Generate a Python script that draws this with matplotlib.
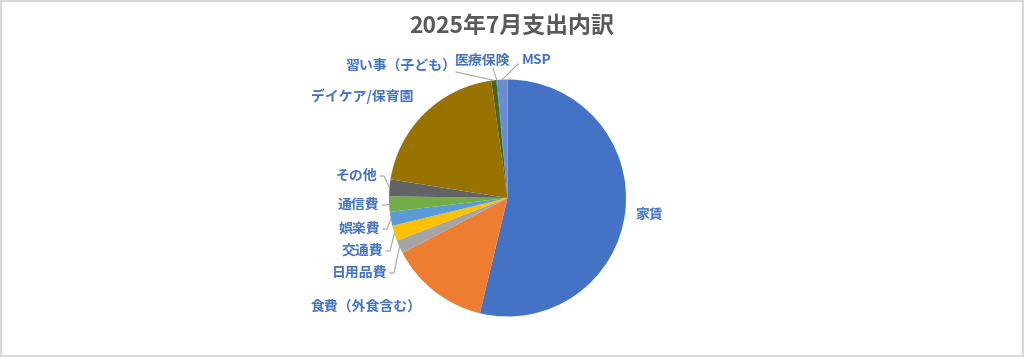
import matplotlib
matplotlib.use("Agg")
import matplotlib.pyplot as plt
from matplotlib.patches import Rectangle
import numpy as np

plt.rcParams['font.family'] = ['Noto Sans CJK JP', 'DejaVu Sans']

# ---- data ----
categories = ["家賃", "食費（外食含む）", "日用品費", "交通費", "娯楽費", "通信費",
              "その他", "デイケア/保育園", "習い事（子ども）", "医療保険", "MSP"]
shares = [53.8, 13.6, 1.8, 2.1, 1.9, 2.1, 2.3, 20.3, 0.7, 0.1, 1.4]
colors = ["#4472C4", "#ED7D31", "#A5A5A5", "#FFC000", "#5B9BD5", "#70AD47",
          "#636363", "#997300", "#43682B", "#255E91", "#698ED0"]
title = "2025年7月支出内訳"

W, H = 1024, 357
CX, CY, R = 507.5, 198.0, 118.5   # pie centre / radius in pixels (top-left origin)

fig = plt.figure(figsize=(W / 100, H / 100), dpi=100)
ax = fig.add_axes([0, 0, 1, 1])
ax.set_xlim(-CX / R, (W - CX) / R)
ax.set_ylim(-(H - CY) / R, CY / R)
ax.set_aspect('auto')
ax.axis('off')

wedges, _ = ax.pie(shares, colors=colors, startangle=90, counterclock=False,
                   radius=1.0, center=(0, 0), wedgeprops=dict(linewidth=0))
ax.set_xlim(-CX / R, (W - CX) / R)
ax.set_ylim(-(H - CY) / R, CY / R)
ax.set_aspect('auto')


def d(px, py):
    return (px - CX) / R, (CY - py) / R


def mid(w):
    a = np.deg2rad((w.theta1 + w.theta2) / 2)
    return np.cos(a), np.sin(a)


label_color = "#4472C4"
lead_color = "#A6A6A6"

# label placement (pixels): x, y, horizontal alignment
label_pos = [
    (635, 215, 'left'),
    (311, 307, 'left'),
    (387, 273, 'right'),
    (383, 251, 'right'),
    (380, 229, 'right'),
    (379, 205, 'right'),
    (377, 176, 'right'),
    (311, 96, 'left'),
    (345, 66, 'left'),
    (455, 61, 'left'),
    (522, 60, 'left'),
]

for cat, (px, py, ha) in zip(categories, label_pos):
    x, y = d(px, py)
    ax.text(x, y, cat, ha=ha, va='center', fontsize=10, color=label_color,
            fontweight='bold')

# leader lines for the small slices on the left
for i in [2, 3, 4, 5, 6]:
    px, py, _ = label_pos[i]
    mx, my = mid(wedges[i])
    sx, sy = d(px + 3, py)
    ex, ey = d(px + 7, py)
    ax.plot([sx, ex, mx], [sy, ey, my], color=lead_color, lw=0.8,
            solid_joinstyle='round')

# leader lines for top labels
starts = {8: (456, 72), 9: (493, 68), 10: (518, 64)}
for i, (px, py) in starts.items():
    mx, my = mid(wedges[i])
    sx, sy = d(px, py)
    ax.plot([sx, mx], [sy, my], color=lead_color, lw=0.8)

fig.text(512 / W, 1 - 27 / H, title, ha='center', va='center', fontsize=16.5,
         fontweight='bold', color='#595959')

fig.patches.append(Rectangle((0.001, 0.002), 0.998, 0.996, transform=fig.transFigure,
                             fill=False, edgecolor='#D9D9D9', linewidth=1.5))

fig.savefig("out.png", dpi=100, facecolor='white')
